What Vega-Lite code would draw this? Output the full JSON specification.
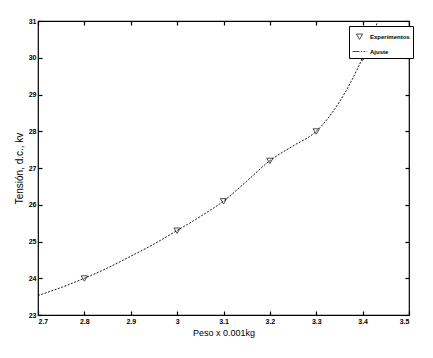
{
  "$schema": "https://vega.github.io/schema/vega-lite/v6.json",
  "width": 371,
  "height": 294,
  "autosize": {"type": "none"},
  "padding": {"left": 38, "top": 21, "right": 24, "bottom": 43},
  "background": "white",
  "config": {
    "view": {"stroke": "black", "strokeWidth": 1.2},
    "font": "Liberation Sans",
    "axis": {
      "grid": false,
      "domain": false,
      "tickColor": "black",
      "tickSize": -4,
      "tickWidth": 1.2,
      "labelFontSize": 7,
      "labelFontWeight": "bold",
      "labelColor": "black",
      "titleColor": "black",
      "titleFontWeight": "normal"
    }
  },
  "datasets": {
    "exp": [
      {"peso": 2.8, "tension": 24.0, "serie": "Experimentos"},
      {"peso": 3.0, "tension": 25.3, "serie": "Experimentos"},
      {"peso": 3.1, "tension": 26.1, "serie": "Experimentos"},
      {"peso": 3.2, "tension": 27.2, "serie": "Experimentos"},
      {"peso": 3.3, "tension": 28.0, "serie": "Experimentos"},
      {"peso": 3.4, "tension": 30.0, "serie": "Experimentos"}
    ],
    "fit": [
      {"peso": 2.7, "tension": 23.53},
      {"peso": 2.75, "tension": 23.75},
      {"peso": 2.8, "tension": 24.0},
      {"peso": 2.85, "tension": 24.28},
      {"peso": 2.9, "tension": 24.6},
      {"peso": 2.95, "tension": 24.93},
      {"peso": 3.0, "tension": 25.3},
      {"peso": 3.05, "tension": 25.68},
      {"peso": 3.1, "tension": 26.1},
      {"peso": 3.15, "tension": 26.64},
      {"peso": 3.2, "tension": 27.2},
      {"peso": 3.25, "tension": 27.6},
      {"peso": 3.3, "tension": 28.0},
      {"peso": 3.325, "tension": 28.35},
      {"peso": 3.35, "tension": 28.8},
      {"peso": 3.375, "tension": 29.35},
      {"peso": 3.4, "tension": 30.0},
      {"peso": 3.433, "tension": 31.0}
    ]
  },
  "layer": [
    {
      "data": {"name": "fit"},
      "mark": {"type": "line", "color": "black", "strokeWidth": 0.9, "strokeDash": [2, 1.5], "clip": true, "interpolate": "monotone"},
      "encoding": {
        "x": {"field": "peso", "type": "quantitative", "scale": {"domain": [2.7, 3.5], "nice": false, "zero": false},
          "axis": {"orient": "top", "labels": false, "title": null, "values": [2.7, 2.8, 2.9, 3.0, 3.1, 3.2, 3.3, 3.4, 3.5]}},
        "y": {"field": "tension", "type": "quantitative", "scale": {"domain": [23, 31], "nice": false, "zero": false},
          "axis": {"orient": "right", "labels": false, "title": null, "values": [23, 24, 25, 26, 27, 28, 29, 30, 31]}}
      }
    },
    {
      "data": {"name": "exp"},
      "mark": {"type": "point", "filled": false, "color": "black", "strokeWidth": 1, "size": 196},
      "encoding": {
        "x": {"field": "peso", "type": "quantitative",
          "axis": {"orient": "bottom", "title": "Peso x 0.001kg", "titleFontSize": 9, "titlePadding": 4, "labelPadding": 6,
            "values": [2.7, 2.8, 2.9, 3.0, 3.1, 3.2, 3.3, 3.4, 3.5], "labelExpr": "datum.value == 3 ? '3' : format(datum.value, '.1f')"}},
        "y": {"field": "tension", "type": "quantitative",
          "axis": {"orient": "left", "title": "Tensión, d.c., kv", "titleFontSize": 10, "titlePadding": 4, "labelPadding": 6,
            "values": [23, 24, 25, 26, 27, 28, 29, 30, 31]}},
        "shape": {
          "field": "serie", "type": "nominal",
          "scale": {
            "domain": ["Experimentos", "Ajuste"],
            "range": ["M-0.45,-0.35L0.45,-0.35L0,0.42Z", "M-1,0H0M0.2,0H0.4M0.6,0H0.8M0.9,0H1"]
          },
          "legend": {
            "title": null,
            "orient": "none",
            "legendX": 311,
            "legendY": 5,
            "strokeColor": "black",
            "fillColor": "white",
            "padding": 3,
            "symbolSize": 196,
            "symbolStrokeColor": "black",
            "symbolFillColor": "white",
            "symbolStrokeWidth": 1,
            "labelFontSize": 6,
            "labelColor": "black",
            "labelFontWeight": "bold",
            "rowPadding": 2,
            "labelOffset": 3
          }
        }
      }
    }
  ],
  "resolve": {"axis": {"x": "independent", "y": "independent"}}
}
